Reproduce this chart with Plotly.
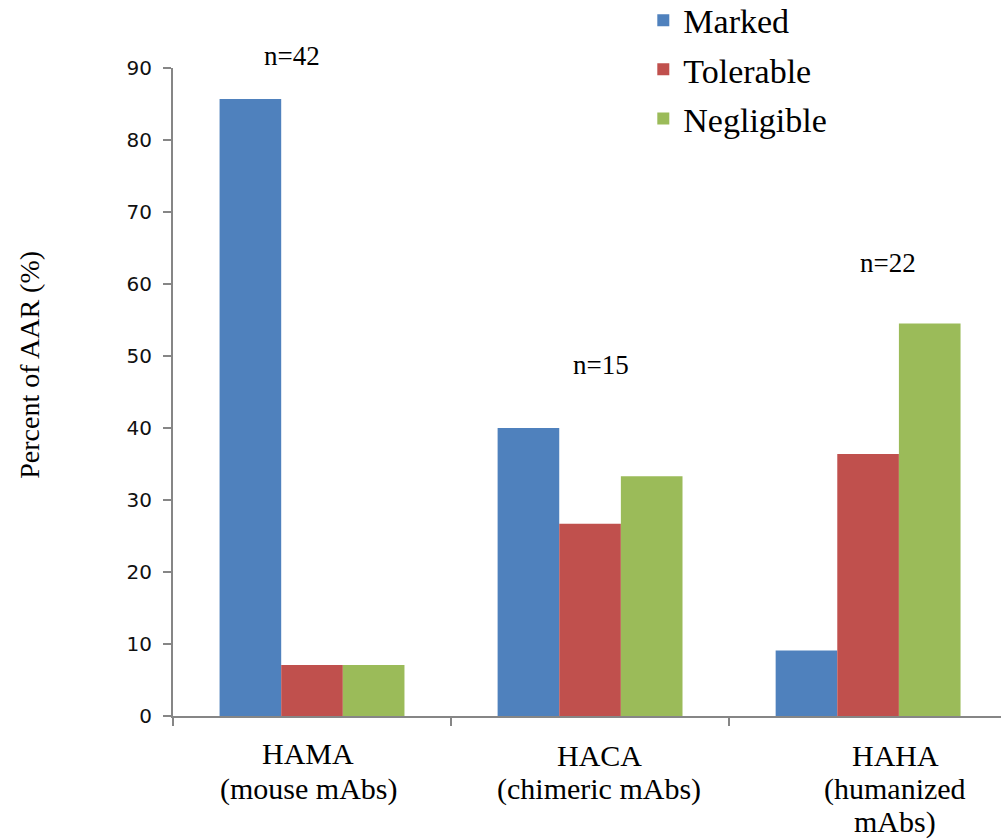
import plotly.graph_objects as go

# Categories and series (percent of anti-antibody responses)
categories = ["HAMA", "HACA", "HAHA"]
category_labels = [
    "HAMA<br>(mouse mAbs)",
    "HACA<br>(chimeric mAbs)",
    "HAHA<br>(humanized<br>mAbs)",
]
series_names = ["Marked", "Tolerable", "Negligible"]
marked = [85.7, 40.0, 9.1]
tolerable = [7.1, 26.7, 36.4]
negligible = [7.1, 33.3, 54.5]
n_counts = [42, 15, 22]
y_ticks = [0, 10, 20, 30, 40, 50, 60, 70, 80, 90]
y_max = 90

# Placement of the "n=" annotations (in axis units) and the category captions
n_label_y = [91.6, 48.8, 62.9]
n_label_xshift = [-20, 11, 20]
caption_xshift = [-4, 9, 27]
caption_line_yshift = [-39, -73, -106]
caption_first_line_nudge = [2, 0, 0]

colors = ["#4F81BD", "#C0504D", "#9BBB59"]
serif = "Liberation Serif, Times New Roman, serif"
axis_grey = "#868686"

fig = go.Figure()
for name, vals, col in zip(series_names, [marked, tolerable, negligible], colors):
    fig.add_trace(go.Bar(
        x=categories, y=vals, name=name, legendgroup=name,
        marker=dict(color=col, line=dict(width=0)),
        hoverinfo="skip",
    ))

annotations = []
# sample sizes above each group (paper y so the top one may sit above the axis)
for cat, n, ny, dx in zip(categories, n_counts, n_label_y, n_label_xshift):
    annotations.append(dict(
        x=cat, y=ny / y_max, xref="x", yref="paper", text=f"n={n}",
        showarrow=False, xshift=dx, yanchor="middle",
        font=dict(family=serif, size=27, color="black"),
    ))
# category captions, one annotation per line for tight line spacing
for cat, lab, dx, nudge in zip(categories, category_labels, caption_xshift,
                               caption_first_line_nudge):
    for i, line in enumerate(lab.split("<br>")):
        annotations.append(dict(
            x=cat, y=0, xref="x", yref="paper", text=line, showarrow=False,
            xshift=dx, yshift=caption_line_yshift[i] + (nudge if i == 0 else 0),
            yanchor="middle", xanchor="center",
            font=dict(family=serif, size=30, color="black"),
        ))
annotations.append(dict(
    x=-0.173, y=0.5417, xref="paper", yref="paper", text="Percent of AAR (%)",
    showarrow=False, textangle=-90, xanchor="center", yanchor="middle",
    font=dict(family=serif, size=28, color="black"),
))

fig.update_layout(
    width=1001, height=839,
    margin=dict(l=173, r=0, t=68, b=123, autoexpand=False),
    paper_bgcolor="white", plot_bgcolor="white",
    barmode="group", bargap=0.335, bargroupgap=0,
    showlegend=True,
    legend=dict(
        x=0.568, y=1.118, xanchor="left", yanchor="top",
        traceorder="grouped", tracegroupgap=2,
        font=dict(family=serif, size=34, color="black"),
        bgcolor="rgba(0,0,0,0)",
    ),
    annotations=annotations,
    xaxis=dict(
        type="category", range=[-0.5, 2.478],
        showticklabels=False, tickson="boundaries",
        ticks="outside", ticklen=8, tickcolor=axis_grey, tickwidth=2,
        showline=True, linecolor=axis_grey, linewidth=2,
        showgrid=False, zeroline=False,
    ),
    yaxis=dict(
        range=[0, y_max], tickvals=y_ticks,
        ticks="outside", ticklen=8, tickcolor=axis_grey, tickwidth=2,
        showline=True, linecolor=axis_grey, linewidth=2,
        showgrid=False, zeroline=False,
        ticklabelstandoff=7,
        tickfont=dict(family="DejaVu Sans, Verdana, sans-serif", size=20, color="#111111"),
    ),
)

fig.write_html("out.html")
